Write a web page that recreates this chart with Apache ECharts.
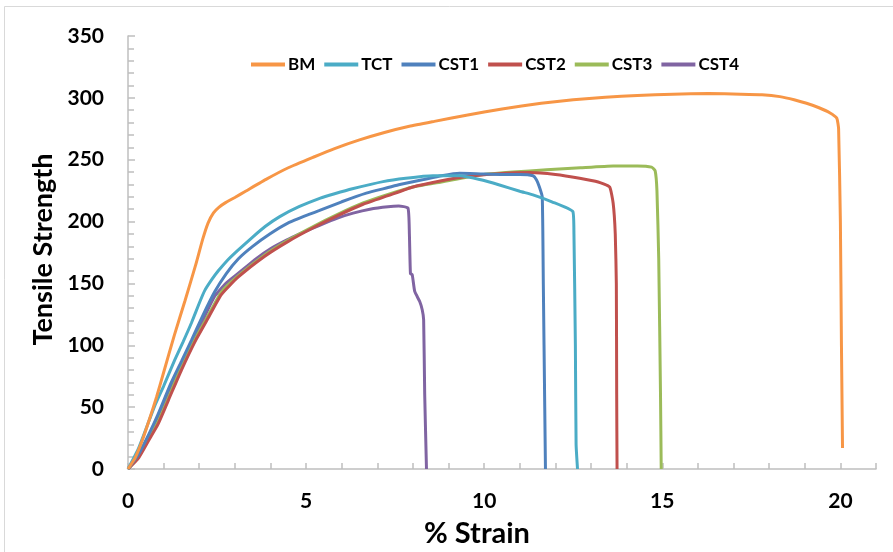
<!DOCTYPE html>
<html>
<head>
<meta charset="utf-8">
<script src="https://cdn.jsdelivr.net/npm/echarts@6/dist/echarts.min.js"></script>
<style>
  html, body { margin: 0; padding: 0; background: #fff; }
  #chart { width: 893px; height: 552px; }
</style>
</head>
<body>
<div id="chart"></div>
<script>
// Stress-strain curves: [% strain, tensile strength]
const BM = [
  [0,0],[0.2,9],[0.4,23],[0.6,40],[0.8,58],[1.0,78],[1.3,108],[1.6,136],[1.9,165],
  [2.1,186],[2.25,199],[2.4,207],[2.55,211.5],[2.75,215.5],[3.0,219.5],[3.3,224.5],
  [3.9,234.5],[4.5,243.5],[5.2,252],[5.8,259],[6.5,266],[7.2,272],[7.9,277],[8.6,281],
  [9.5,286],[10.5,291],[11.6,295.6],[12.5,298.5],[13.4,300.5],[14.3,302],[15.3,303],
  [16.3,303.5],[17.2,303],[17.8,302.5],[18.3,301],[18.7,298.5],[19.05,295.6],[19.4,292],
  [19.7,288],[19.9,283.5],[19.95,275],[20.0,200],[20.03,100],[20.06,17]
];
const TCT = [
  [0,0],[0.28,15.6],[0.5,32],[0.75,51],[1.0,67],[1.31,88],[1.55,103],[1.78,118],[2.0,134],
  [2.15,144],[2.35,153],[2.53,160],[2.8,169],[3.09,177],[3.5,187.5],[3.85,196],[4.26,204],
  [4.8,212],[5.4,219],[5.8,222.5],[6.3,226.5],[7.16,232.3],[7.8,235],[8.56,237],[9.31,237],
  [9.87,234],[10.43,229.6],[11.0,224.5],[11.37,221.6],[11.9,216],[12.49,208],[12.52,190],
  [12.56,100],[12.58,20],[12.62,0]
];
const CST1 = [
  [0,0],[0.3,12],[0.6,29],[0.84,44],[1.2,69],[1.5,87],[1.78,104],[2.1,124],[2.43,143],
  [2.76,158],[3.1,170],[3.5,180],[3.98,190],[4.5,199],[5.1,206],[5.38,209],[6.0,216],
  [6.69,223],[7.3,227.5],[7.63,230],[8.3,234],[8.8,237],[9.31,239],[9.9,238.5],[10.5,238],
  [11.0,238],[11.37,237],[11.47,233.7],[11.55,228],[11.63,220],[11.66,150],[11.7,50],[11.72,0]
];
const CST2 = [
  [0,0],[0.3,9],[0.6,24],[0.84,36],[1.2,60],[1.5,80],[1.9,104],[2.25,122],[2.62,141],
  [3.09,155],[3.84,172],[4.5,184],[5.2,195],[5.9,205],[6.6,214],[7.3,221],[8.0,228],
  [8.8,233],[9.5,236.5],[10.3,238.5],[11.28,239.6],[12.0,238],[12.68,235],[13.2,232],
  [13.52,228],[13.62,215],[13.68,190],[13.71,150],[13.72,60],[13.73,0]
];
const CST3 = [
  [0,0],[0.3,10],[0.6,26],[0.84,38],[1.2,62],[1.5,83],[1.9,106],[2.25,124],[2.62,143],
  [3.09,156],[3.84,173],[4.5,185],[5.2,196],[5.9,206],[6.6,215],[7.3,222],[8.0,228],
  [8.8,232],[9.87,237.7],[10.8,240],[11.75,241.8],[12.7,243.5],[13.62,245],[14.3,245],
  [14.7,244],[14.8,241],[14.85,225],[14.9,170],[14.95,60],[14.97,0]
];
const CST4 = [
  [0,0],[0.3,11],[0.6,28],[0.84,42.5],[1.2,66],[1.5,83],[1.78,99],[2.1,120],[2.43,139.4],
  [2.75,150],[3.09,158],[3.6,170],[4.0,178],[4.45,185],[4.9,191],[5.38,197],[5.9,203],
  [6.32,206.8],[6.79,210],[7.3,212],[7.6,212.5],[7.86,211],[7.9,190],[7.93,158],[7.98,157],
  [8.05,143.5],[8.19,135.4],[8.26,128.7],[8.3,120.6],[8.33,60],[8.38,0]
];

const seriesNames = ['BM', 'TCT', 'CST1', 'CST2', 'CST3', 'CST4'];
const seriesData = [BM, TCT, CST1, CST2, CST3, CST4];
const seriesColors = ['#F79646', '#4BACC6', '#4F81BD', '#C0504D', '#9BBB59', '#8064A2'];

const xTickLabels = [0, 5, 10, 15, 20];

const FONT = 'Lato, "Open Sans", sans-serif';
const axisGray = '#BFBFBF';

const chart = echarts.init(document.getElementById('chart'), null, { renderer: 'canvas' });

chart.setOption({
  animation: false,
  backgroundColor: '#ffffff',
  textStyle: { fontFamily: FONT },
  graphic: [{
    type: 'rect',
    silent: true,
    shape: { x: 4.5, y: 6.5, width: 920, height: 600 },
    style: { fill: 'none', stroke: '#D9D9D9', lineWidth: 1 }
  }],
  grid: { left: 128, right: 17, top: 36, bottom: 83, containLabel: false, outerBoundsMode: 'none' },
  legend: {
    left: 246,
    top: 51,
    icon: 'rect',
    itemWidth: 34,
    itemHeight: 4,
    itemGap: 9,
    textStyle: { fontFamily: FONT, fontWeight: 'bold', fontSize: 17, color: '#000', padding: [0, 0, 0, -2] },
    data: seriesNames
  },
  xAxis: {
    type: 'value',
    min: 0,
    max: 21,
    interval: 1,
    name: '% Strain',
    nameLocation: 'middle',
    nameGap: 50,
    nameTextStyle: { fontFamily: FONT, fontWeight: 'bold', fontSize: 29, color: '#000', padding: [0, 50, 0, 0] },
    axisLine: { show: true, lineStyle: { color: axisGray, width: 1.5 } },
    axisTick: { show: true, inside: true, length: 6, lineStyle: { color: axisGray, width: 1.5 } },
    splitLine: { show: false },
    axisLabel: {
      margin: 22,
      fontFamily: FONT, fontWeight: 'bold', fontSize: 21, color: '#000',
      formatter: v => (xTickLabels.indexOf(v) >= 0 ? String(v) : '')
    }
  },
  yAxis: {
    type: 'value',
    min: 0,
    max: 350,
    interval: 50,
    name: 'Tensile Strength',
    nameLocation: 'middle',
    nameGap: 70,
    nameTextStyle: { fontFamily: FONT, fontWeight: 'bold', fontSize: 27, color: '#000', padding: [0, 0, 0, 6] },
    axisLine: { show: true, lineStyle: { color: axisGray, width: 1.5 } },
    axisTick: { show: true, inside: true, length: 7, lineStyle: { color: axisGray, width: 1.5 } },
    minorTick: { show: true, splitNumber: 5, length: 6, lineStyle: { color: axisGray, width: 1.5 } },
    splitLine: { show: false },
    axisLabel: { margin: 24, fontFamily: FONT, fontWeight: 'bold', fontSize: 21, color: '#000' }
  },
  series: seriesNames.map((name, i) => ({
    name,
    type: 'line',
    data: seriesData[i],
    symbol: 'none',
    smooth: 0.15,
    lineStyle: { color: seriesColors[i], width: 3 },
    itemStyle: { color: seriesColors[i] },
    z: 10 - i
  }))
});
</script>
</body>
</html>
